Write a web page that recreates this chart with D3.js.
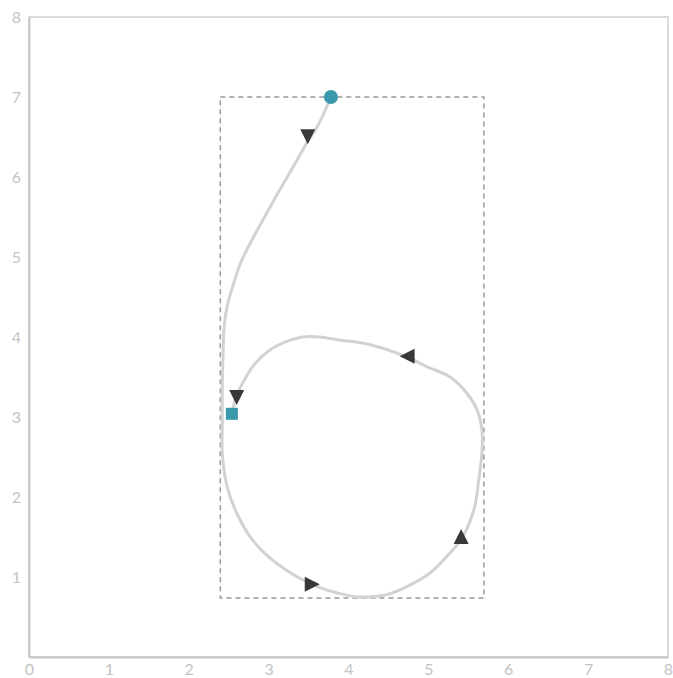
<!DOCTYPE html>
<html>
<head>
<meta charset="utf-8">
<script src="https://cdn.jsdelivr.net/npm/d3@7"></script>
<style>
  html, body { margin: 0; padding: 0; background: #fff; }
  svg { display: block; }
  .tick-label { font-family: Lato, "Open Sans", sans-serif; font-size: 16px; fill: #c4c4c4; }
</style>
</head>
<body>
<svg id="chart" width="673" height="678"></svg>
<script>
// Path traced by the curve, in data units (x, y)
const pathX = [3.78, 3.61, 3.48, 3.31, 3.14, 2.96, 2.79, 2.65, 2.55, 2.48, 2.44, 2.43, 2.42, 2.42, 2.42,
  2.48, 2.60, 2.80, 3.05, 3.36, 3.61, 3.86, 4.14, 4.48, 4.73, 5.02, 5.27, 5.43, 5.58, 5.63, 5.67, 5.67,
  5.61, 5.48, 5.27, 4.98, 4.73, 4.43, 4.14, 3.89, 3.64, 3.43, 3.27, 3.02, 2.80, 2.68, 2.60, 2.54];
const pathY = [7.00, 6.63, 6.43, 6.13, 5.84, 5.52, 5.21, 4.93, 4.63, 4.38, 4.09, 3.80, 3.38, 2.96, 2.55,
  2.13, 1.80, 1.46, 1.21, 1.00, 0.88, 0.80, 0.75, 0.78, 0.88, 1.05, 1.30, 1.50, 1.88, 2.21, 2.55, 2.84,
  3.09, 3.30, 3.50, 3.63, 3.75, 3.86, 3.93, 3.96, 4.00, 4.00, 3.96, 3.84, 3.63, 3.43, 3.28, 3.04];

// Direction arrows along the curve
const arrowX = [3.49, 3.54, 5.41, 4.74, 2.60];
const arrowY = [6.51, 0.91, 1.50, 3.76, 3.25];

// Axis ticks
const xTicks = [0, 1, 2, 3, 4, 5, 6, 7, 8];
const yTicks = [1, 2, 3, 4, 5, 6, 7, 8];

const W = 673, H = 678;
const margin = { top: 17, right: 5, bottom: 21, left: 29 };

const x = d3.scaleLinear().domain([0, 8]).range([margin.left, W - margin.right]);
const y = d3.scaleLinear().domain([0, 8]).range([H - margin.bottom, margin.top]);

const svg = d3.select("#chart");

const pts = pathX.map((v, i) => [v, pathY[i]]);

// Frame
svg.append("rect")
  .attr("x", x(0)).attr("y", y(8))
  .attr("width", x(8) - x(0)).attr("height", y(0) - y(8))
  .attr("fill", "none").attr("stroke", "#cfcfcf").attr("stroke-width", 1.5);

// Axes (labels only; lines drawn heavier)
const xAxis = svg.append("g").attr("transform", `translate(0,${y(0)})`)
  .call(d3.axisBottom(x).tickValues(xTicks).tickSize(0).tickPadding(8).tickFormat(d3.format("d")));
const yAxis = svg.append("g").attr("transform", `translate(${x(0)},0)`)
  .call(d3.axisLeft(y).tickValues(yTicks).tickSize(0).tickPadding(8).tickFormat(d3.format("d")));
[xAxis, yAxis].forEach(a => {
  a.select(".domain").attr("stroke", "#c8c8c8").attr("stroke-width", 2);
  a.selectAll("text").attr("class", "tick-label").attr("fill", null);
});
xAxis.selectAll("text").attr("dy", "0.62em");

// Bounding box of the curve
const xExt = d3.extent(pathX), yExt = d3.extent(pathY);
svg.append("rect")
  .attr("x", x(xExt[0]) - 2).attr("y", y(yExt[1]))
  .attr("width", x(xExt[1]) - x(xExt[0]) + 4).attr("height", y(yExt[0]) - y(yExt[1]) + 1)
  .attr("fill", "none").attr("stroke", "#999").attr("stroke-width", 1.5)
  .attr("stroke-dasharray", "5,4");

// Curve
const line = d3.line().x(d => x(d[0])).y(d => y(d[1])).curve(d3.curveCatmullRom.alpha(0.5));
svg.append("path").datum(pts)
  .attr("d", line)
  .attr("fill", "none").attr("stroke", "#d2d2d2").attr("stroke-width", 3)
  .attr("stroke-linejoin", "round").attr("stroke-linecap", "round");

// Arrows: orientation follows the nearest segment, snapped to 90 degrees
function heading(ax, ay) {
  let best = 0, bd = Infinity;
  for (let i = 0; i < pts.length - 1; i++) {
    const mx = (x(pts[i][0]) + x(pts[i + 1][0])) / 2, my = (y(pts[i][1]) + y(pts[i + 1][1])) / 2;
    const d = (mx - x(ax)) ** 2 + (my - y(ay)) ** 2;
    if (d < bd) { bd = d; best = i; }
  }
  const dx = x(pts[best + 1][0]) - x(pts[best][0]);
  const dy = y(pts[best + 1][1]) - y(pts[best][1]);
  const ang = Math.atan2(dy, dx) * 180 / Math.PI;
  return Math.round(ang / 90) * 90;
}
const tri = "M8,0 L-7,-7.5 L-7,7.5 Z";
svg.append("g").selectAll("path")
  .data(arrowX.map((v, i) => [v, arrowY[i]]))
  .join("path")
  .attr("d", tri)
  .attr("transform", d => `translate(${x(d[0])},${y(d[1])}) rotate(${heading(d[0], d[1])})`)
  .attr("fill", "#383838");

// Start and end markers
const start = pts[0], end = pts[pts.length - 1];
svg.append("circle")
  .attr("cx", x(start[0])).attr("cy", y(start[1])).attr("r", 7)
  .attr("fill", "#3a98ad");
svg.append("rect")
  .attr("x", x(end[0]) - 6).attr("y", y(end[1]) - 6)
  .attr("width", 12).attr("height", 12)
  .attr("fill", "#3a98ad");
</script>
</body>
</html>
